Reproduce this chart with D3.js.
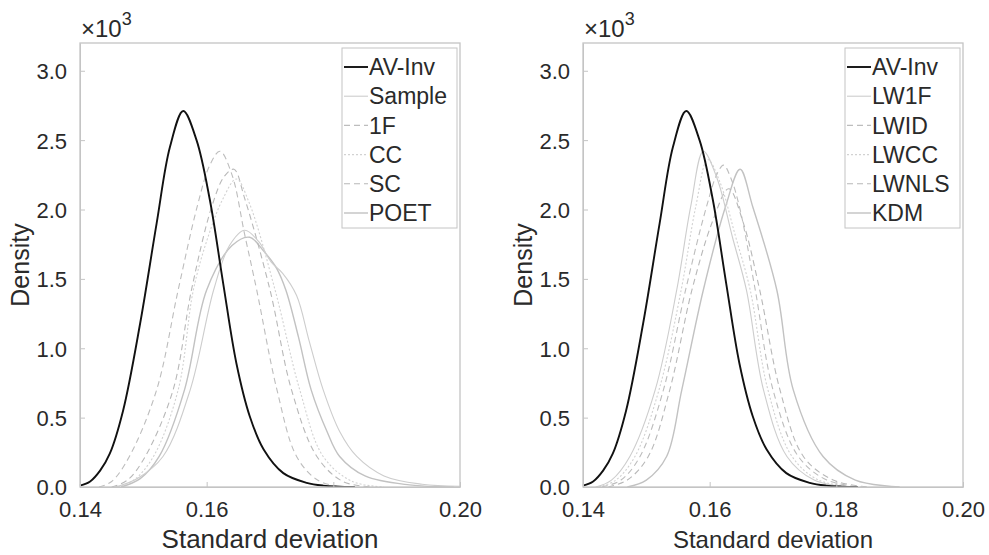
<!DOCTYPE html>
<html>
<head>
<meta charset="utf-8">
<script src="https://cdn.jsdelivr.net/npm/d3@7"></script>
<style>
  html, body { margin: 0; padding: 0; background: #fff; }
  svg { display: block; font-family: "Liberation Sans", Arial, sans-serif; }
</style>
</head>
<body>
<div id="chart"></div>
<script>
// density curves, x = standard deviation, y = density (x10^3)
const avInv = [[0.1400,0.01],[0.1416,0.04],[0.1432,0.12],[0.1447,0.24],[0.1468,0.55],[0.1495,1.18],[0.1521,1.90],[0.1542,2.45],[0.1563,2.71],[0.1584,2.50],[0.1605,2.07],[0.1626,1.47],[0.1647,0.89],[0.1668,0.51],[0.1690,0.27],[0.1721,0.10],[0.1758,0.03],[0.1784,0.01],[0.1834,0.0]];

// left panel
const sample = [[0.1455,0.0],[0.1490,0.06],[0.1531,0.22],[0.1574,0.70],[0.1611,1.42],[0.1636,1.74],[0.1660,1.85],[0.1682,1.77],[0.1702,1.62],[0.1720,1.54],[0.1742,1.38],[0.1762,1.05],[0.1784,0.70],[0.1810,0.40],[0.1837,0.22],[0.1880,0.08],[0.1940,0.02],[0.2000,0.005]];
const oneF = [[0.1430,0.0],[0.1450,0.04],[0.1478,0.22],[0.1521,0.70],[0.1555,1.42],[0.1585,2.02],[0.1605,2.32],[0.1621,2.42],[0.1640,2.25],[0.1660,1.82],[0.1679,1.42],[0.1711,0.70],[0.1742,0.22],[0.1775,0.05],[0.1810,0.0]];
const cc = [[0.1460,0.0],[0.1485,0.05],[0.1516,0.22],[0.1555,0.70],[0.1579,1.42],[0.1602,1.80],[0.1626,2.08],[0.1647,2.22],[0.1667,2.05],[0.1708,1.42],[0.1747,0.70],[0.1784,0.22],[0.1830,0.04],[0.1880,0.0]];
const sc = [[0.1450,0.0],[0.1475,0.05],[0.1503,0.22],[0.1547,0.70],[0.1576,1.42],[0.1608,2.02],[0.1628,2.24],[0.1643,2.29],[0.1660,2.08],[0.1700,1.42],[0.1734,0.70],[0.1774,0.22],[0.1815,0.04],[0.1860,0.0]];
const poet = [[0.1465,0.0],[0.1495,0.06],[0.1525,0.22],[0.1565,0.70],[0.1600,1.42],[0.1640,1.74],[0.1668,1.80],[0.1690,1.70],[0.1710,1.58],[0.1725,1.42],[0.1745,1.08],[0.1765,0.70],[0.1790,0.40],[0.1810,0.22],[0.1850,0.08],[0.1920,0.015],[0.1990,0.0]];

// right panel
const lw1f = [[0.1420,0.0],[0.1445,0.05],[0.1474,0.22],[0.1514,0.70],[0.1548,1.42],[0.1570,2.02],[0.1590,2.42],[0.1612,2.22],[0.1636,1.80],[0.1658,1.42],[0.1685,0.70],[0.1722,0.22],[0.1765,0.05],[0.1820,0.0]];
const lwid = [[0.1430,0.0],[0.1460,0.05],[0.1490,0.22],[0.1527,0.70],[0.1562,1.42],[0.1595,2.02],[0.1612,2.26],[0.1622,2.32],[0.1634,2.22],[0.1648,2.00],[0.1672,1.42],[0.1700,0.70],[0.1740,0.22],[0.1785,0.05],[0.1840,0.0]];
const lwcc = [[0.1425,0.0],[0.1452,0.05],[0.1482,0.22],[0.1520,0.70],[0.1555,1.42],[0.1578,2.02],[0.1597,2.36],[0.1616,2.20],[0.1640,1.82],[0.1664,1.42],[0.1692,0.70],[0.1730,0.22],[0.1772,0.05],[0.1830,0.0]];
const lwnls = [[0.1440,0.0],[0.1470,0.05],[0.1503,0.22],[0.1537,0.70],[0.1572,1.42],[0.1605,1.92],[0.1630,2.15],[0.1652,1.92],[0.1679,1.42],[0.1711,0.70],[0.1748,0.22],[0.1795,0.05],[0.1850,0.0]];
const kdm = [[0.1470,0.0],[0.1500,0.05],[0.1532,0.22],[0.1556,0.70],[0.1590,1.42],[0.1625,2.02],[0.1648,2.29],[0.1668,2.02],[0.1706,1.42],[0.1732,0.70],[0.1779,0.22],[0.1830,0.05],[0.1900,0.0]];

const leftNames = ["AV-Inv", "Sample", "1F", "CC", "SC", "POET"];
const rightNames = ["AV-Inv", "LW1F", "LWID", "LWCC", "LWNLS", "KDM"];
const xTicks = [0.14, 0.16, 0.18, 0.20];
const yTicks = [0, 0.5, 1, 1.5, 2, 2.5, 3];

const W = 989, H = 555;
const svg = d3.select("#chart").append("svg").attr("width", W).attr("height", H);

// line styles per legend slot
const styles = [
    { stroke: "#111", width: 1.9, dash: null },
    { stroke: "#cdcdcd", width: 1.1, dash: null },
    { stroke: "#bdbdbd", width: 1.1, dash: "6,4" },
    { stroke: "#d2d2d2", width: 1.1, dash: "2,2" },
    { stroke: "#b8b8b8", width: 1.1, dash: "6,4" },
    { stroke: "#c2c2c2", width: 1.4, dash: null }
];

const panel = (x0, x1, seriesList, names, xlabelSize, legendX) => {
    const top = 43, bottom = 487;
    const x = d3.scaleLinear().domain([0.14, 0.20]).range([x0, x1]);
    const y = d3.scaleLinear().domain([0, 3.2]).range([bottom, top]);
    const g = svg.append("g");
    const axisCol = "#c4c4c4", textCol = "#2a2a2a";

    // curves (gray first, black on top)
    const line = d3.line().x(d => x(d[0])).y(d => y(d[1])).curve(d3.curveCatmullRom.alpha(0.5));
    const order = d3.range(seriesList.length).reverse();
    g.selectAll("path.curve").data(order).join("path").attr("class", "curve")
        .attr("d", i => line(seriesList[i]))
        .attr("fill", "none")
        .attr("stroke", i => styles[i].stroke)
        .attr("stroke-width", i => styles[i].width)
        .attr("stroke-dasharray", i => styles[i].dash);

    // box
    g.append("rect").attr("x", x0).attr("y", top).attr("width", x1 - x0).attr("height", bottom - top)
        .attr("fill", "none").attr("stroke", axisCol).attr("stroke-width", 1.3);

    // axes with inward ticks
    const xa = g.append("g").attr("transform", `translate(0,${bottom})`)
        .call(d3.axisBottom(x).tickValues(xTicks).tickSizeInner(-5).tickSizeOuter(0).tickPadding(14).tickFormat(d3.format(".2f")));
    const ya = g.append("g").attr("transform", `translate(${x0},0)`)
        .call(d3.axisLeft(y).tickValues(yTicks).tickSizeInner(-5).tickSizeOuter(0).tickPadding(13).tickFormat(d3.format(".1f")));
    [xa, ya].forEach(a => {
        a.select(".domain").attr("stroke", axisCol);
        a.selectAll(".tick line").attr("stroke", axisCol);
        a.selectAll("text").attr("fill", textCol).style("font-size", "22px");
    });
    ya.selectAll("text").attr("dy", "0.36em");

    // exponent
    const ex = g.append("text").attr("x", x0 + 1).attr("y", 37).attr("fill", textCol).style("font-size", "24px");
    ex.append("tspan").text("\u00d710");
    ex.append("tspan").attr("dy", -12).style("font-size", "18px").text("3");

    // labels
    g.append("text").attr("transform", `translate(${x0 - 51},${(top + bottom) / 2}) rotate(-90)`)
        .attr("text-anchor", "middle").attr("fill", textCol).style("font-size", "25px").text("Density");
    g.append("text").attr("x", (x0 + x1) / 2).attr("y", 548).attr("text-anchor", "middle")
        .attr("fill", textCol).style("font-size", xlabelSize + "px").text("Standard deviation");

    // legend
    const lg = g.append("g");
    lg.append("rect").attr("x", legendX).attr("y", 48).attr("width", x1 - 3 - legendX).attr("height", 180)
        .attr("fill", "#fff").attr("stroke", axisCol).attr("stroke-width", 1);
    const rows = lg.selectAll("g.row").data(names).join("g").attr("class", "row")
        .attr("transform", (d, i) => `translate(${legendX},${67 + i * 29.2})`);
    rows.append("line").attr("x1", 2).attr("x2", 26).attr("y1", 0).attr("y2", 0)
        .attr("stroke", (d, i) => styles[i].stroke)
        .attr("stroke-width", (d, i) => styles[i].width)
        .attr("stroke-dasharray", (d, i) => styles[i].dash);
    rows.append("text").attr("x", 27).attr("y", 0).attr("dy", "0.36em")
        .attr("fill", textCol).style("font-size", "23px").text(d => d);
};

panel(80, 460, [avInv, sample, oneF, cc, sc, poet], leftNames, 26, 342);
panel(583, 963, [avInv, lw1f, lwid, lwcc, lwnls, kdm], rightNames, 24, 845);
</script>
</body>
</html>
